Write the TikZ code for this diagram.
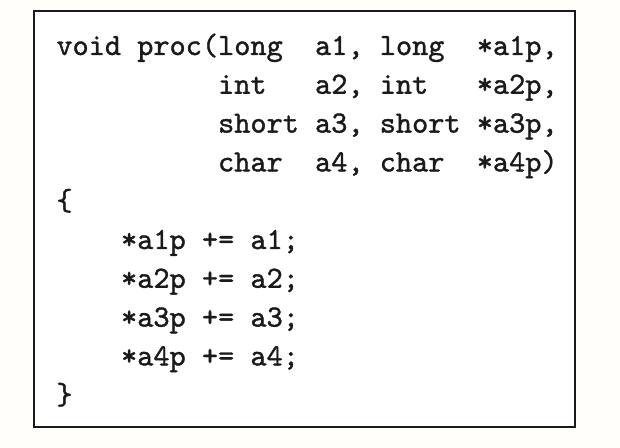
\documentclass[tikz,border=0pt]{standalone}
\usepackage{fontspec}
\setmonofont{lmmono10-regular.otf}[FakeBold=1.2]
\definecolor{bgc}{HTML}{FFFEFA}
\definecolor{ink}{HTML}{1A1A1A}
\begin{document}
\begin{tikzpicture}[x=0.5pt,y=-0.5pt,
  codeline/.style={anchor=base west, inner sep=0pt, text=ink,
    font=\fontsize{15.4}{19}\selectfont\ttfamily}]
\useasboundingbox[fill=bgc] (0,0) rectangle (620,448);
\draw[draw=ink, line width=0.85pt, fill=white] (34,11) rectangle (575,427);
\node[codeline] (l1) at (56,55.0) {void proc(long\ \ a1, long\ \ *a1p,};
\node[codeline] (l2) at (56,93.8) {\phantom{void proc(}int\ \ \ a2, int\ \ \ *a2p,};
\node[codeline] (l3) at (56,132.6) {\phantom{void proc(}short a3, short *a3p,};
\node[codeline] (l4) at (56,171.4) {\phantom{void proc(}char\ \ a4, char\ \ *a4p)};
\node[codeline] (l5) at (56,210.2) {\{};
\node[codeline] (l6) at (56,249.0) {\phantom{void}*a1p += a1;};
\node[codeline] (l7) at (56,287.8) {\phantom{void}*a2p += a2;};
\node[codeline] (l8) at (56,326.6) {\phantom{void}*a3p += a3;};
\node[codeline] (l9) at (56,365.4) {\phantom{void}*a4p += a4;};
\node[codeline] (l10) at (56,404.2) {\}};
\end{tikzpicture}
\end{document}
